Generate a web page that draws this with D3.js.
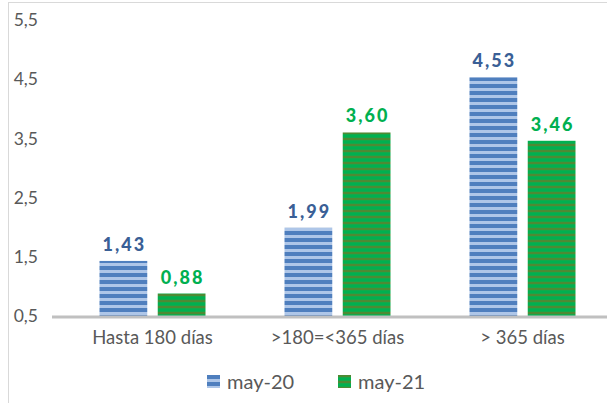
<!DOCTYPE html>
<html>
<head>
<meta charset="utf-8">
<script src="https://cdn.jsdelivr.net/npm/d3@7"></script>
<style>
  body { margin: 0; background: #fff; }
  text { font-family: Lato, "Open Sans", sans-serif; }
</style>
</head>
<body>
<div id="chart"></div>
<script>
const categories = ["Hasta 180 días", ">180=<365 días", "> 365 días"];
const seriesNames = ["may-20", "may-21"];
const may20 = [1.43, 1.99, 4.53];
const may21 = [0.88, 3.60, 3.46];
const yTicks = [0.5, 1.5, 2.5, 3.5, 4.5, 5.5];

const W = 607, H = 403;
const svg = d3.select("#chart").append("svg")
  .attr("width", W).attr("height", H);

// chart border
svg.append("rect")
  .attr("x", 8.5).attr("y", 2.5)
  .attr("width", W).attr("height", H)
  .attr("fill", "none").attr("stroke", "#d9d9d9");

const defs = svg.append("defs");
const pb = defs.append("pattern").attr("id", "pBlue")
  .attr("patternUnits", "userSpaceOnUse").attr("width", 8).attr("height", 7);
pb.append("rect").attr("width", 8).attr("height", 7).attr("fill", "#aec6e8");
pb.append("rect").attr("y", 0).attr("width", 8).attr("height", 4).attr("fill", "#4f7fbe");

const pg = defs.append("pattern").attr("id", "pGreen")
  .attr("patternUnits", "userSpaceOnUse").attr("width", 8).attr("height", 6);
pg.append("rect").attr("width", 8).attr("height", 6).attr("fill", "#14a84a");
pg.append("rect").attr("y", 0).attr("width", 8).attr("height", 2).attr("fill", "#4e8a34");
pg.append("rect").attr("y", 3).attr("width", 8).attr("height", 2).attr("fill", "#00b050");

const x0 = d3.scaleBand().domain(categories).range([60, 615]);
const x1 = d3.scaleBand().domain(seriesNames).range([-53, 53]).paddingInner(0.18);
const y = d3.scaleLinear().domain([0.5, 5.5]).range([316, 20]);

// y labels
const yAxis = d3.axisLeft(y).tickValues(yTicks)
  .tickFormat(d => d3.format(".1f")(d).replace(".", ","))
  .tickSize(0).tickPadding(0);
const gY = svg.append("g").attr("transform", "translate(38,0)").call(yAxis);
gY.select(".domain").remove();
gY.selectAll(".tick text")
  .attr("fill", "#595959").style("font-size", "17.5px")
  .style("font-family", "Lato, sans-serif");

const colors = { "may-20": "url(#pBlue)", "may-21": "url(#pGreen)" };
const labelColors = { "may-20": "#3a5f96", "may-21": "#00b050" };
const data = categories.map((c, i) => ({ cat: c, vals: [
  { s: "may-20", v: may20[i] }, { s: "may-21", v: may21[i] }] }));

const groups = svg.selectAll("g.grp").data(data).enter().append("g")
  .attr("class", "grp")
  .attr("transform", d => `translate(${x0(d.cat) + x0.bandwidth() / 2},0)`);

groups.selectAll("rect").data(d => d.vals).enter().append("rect")
  .attr("x", d => x1(d.s))
  .attr("width", x1.bandwidth())
  .attr("y", d => y(d.v))
  .attr("height", d => y(0.5) - y(d.v))
  .attr("fill", d => colors[d.s]);

groups.selectAll("text.val").data(d => d.vals).enter().append("text")
  .attr("class", "val")
  .attr("x", d => x1(d.s) + x1.bandwidth() / 2 + 1)
  .attr("y", d => y(d.v) - 10)
  .attr("text-anchor", "middle")
  .style("font-size", "18px").style("font-weight", "900")
  .style("letter-spacing", "2px")
  .attr("fill", d => labelColors[d.s])
  .text(d => d3.format(".2f")(d.v).replace(".", ","));

// x axis line
svg.append("line")
  .attr("x1", 52).attr("x2", W).attr("y1", 317).attr("y2", 317)
  .attr("stroke", "#c0c0c0").attr("stroke-width", 3);

const xAxis = d3.axisBottom(x0).tickSize(0).tickPadding(0);
const gX = svg.append("g").attr("transform", "translate(0,331)").call(xAxis);
gX.select(".domain").remove();
gX.selectAll(".tick text")
  .attr("fill", "#595959").style("font-size", "18.5px")
  .style("font-family", "Lato, sans-serif");

// legend
const legend = svg.append("g").selectAll("g").data(seriesNames).enter().append("g")
  .attr("transform", (d, i) => `translate(${207 + i * 131},375)`);
legend.append("rect").attr("width", 13).attr("height", 13)
  .attr("fill", d => colors[d]);
legend.append("text").attr("x", 20).attr("y", 14)
  .attr("fill", "#595959").style("font-size", "20px")
  .text(d => d);
</script>
</body>
</html>
